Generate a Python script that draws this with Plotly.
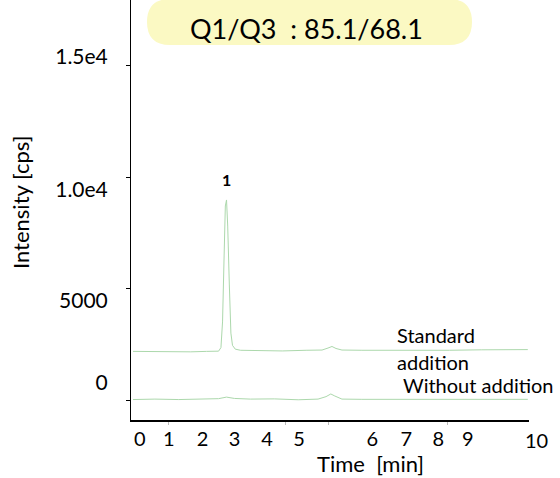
import plotly.graph_objects as go

# ---- data ----
std_time = [0.05, 0.5, 1.0, 1.5, 1.9, 2.2, 2.26, 2.30, 2.34, 2.37, 2.40, 2.43, 2.47, 2.51, 2.55,
            2.62, 2.75, 3.2, 3.8, 4.4, 4.8, 4.95, 5.05, 5.15, 5.3, 5.8, 6.5, 7.2, 8.0, 8.8, 9.5, 9.97]
std_cps = [2180, 2170, 2190, 2160, 2180, 2190, 2350, 3500, 6500, 8700, 8970, 7800, 5200, 3000, 2450,
           2280, 2230, 2210, 2200, 2230, 2240, 2330, 2400, 2310, 2240, 2230, 2220, 2240, 2230, 2250, 2240, 2260]

wo_time = [0.05, 0.6, 1.2, 1.8, 2.2, 2.4, 2.6, 3.0, 3.6, 4.2, 4.7, 4.9, 5.02, 5.12, 5.3, 5.8,
           6.5, 7.2, 8.0, 8.8, 9.5, 9.97]
wo_cps = [20, 40, 20, 30, 60, 130, 70, 40, 50, 10, 40, 150, 270, 180, 40, 30,
          30, 40, 20, 30, 40, 30]

xtick_labels = ["0", "1", "2", "3", "4", "5", "6", "7", "8", "9", "10"]
xtick_pos = [0.22, 0.95, 1.8, 2.6, 3.42, 4.22, 6.06, 6.92, 7.72, 8.46, 10.2]
ytick_labels = ["0", "5000", "1.0e4", "1.5e4"]
ytick_pos = [760, 4450, 9420, 15400]

title_text = "Q1/Q3\u00a0 : 85.1/68.1"
peak_label = "1"
peak_time, peak_cps = 2.40, 8970

FONT = "Lato"
W, H = 560, 478
L, R, T, B = 131, 31, 0, 58
PW, PH = W - L - R, H - T - B
XR = [0, 10]
YR = [-897, 17937]

def px(xp):
    return (xp - L) / PW

def py(yp):
    return (H - B - yp) / PH

fig = go.Figure()
line_col = "rgb(172,216,172)"
fig.add_trace(go.Scatter(x=std_time, y=std_cps, mode="lines",
                         line=dict(color=line_col, width=1), showlegend=False))
fig.add_trace(go.Scatter(x=wo_time, y=wo_cps, mode="lines",
                         line=dict(color=line_col, width=1), showlegend=False))

# rounded title box (stadium) in pixel-derived paper coordinates
x0, x1, y0, y1, r = 147, 472, -1, 45, 23
pts = [
    ("M", px(x0 + r), py(y0)), ("L", px(x1 - r), py(y0)),
    ("Q", px(x1), py(y0), px(x1), py(y0 + r)),
    ("Q", px(x1), py(y1), px(x1 - r), py(y1)),
    ("L", px(x0 + r), py(y1)),
    ("Q", px(x0), py(y1), px(x0), py(y1 - r)),
    ("Q", px(x0), py(y0), px(x0 + r), py(y0)),
]
path = ""
for p in pts:
    if p[0] == "Q":
        path += f"Q{p[1]:.5f},{p[2]:.5f} {p[3]:.5f},{p[4]:.5f} "
    else:
        path += f"{p[0]}{p[1]:.5f},{p[2]:.5f} "
path += "Z"
fig.add_shape(type="path", path=path, xref="paper", yref="paper",
              fillcolor="#FBF9C3", line=dict(width=0), layer="below")


def note(xp, yp, text, size, xanchor="center", angle=0):
    fig.add_annotation(x=px(xp), y=py(yp), xref="paper", yref="paper", text=text,
                       showarrow=False, xanchor=xanchor, yanchor="middle", textangle=angle,
                       font=dict(family=FONT, size=size, color="black"))


note(306, 29, title_text, 27)
fig.add_annotation(x=peak_time, y=peak_cps, text=f"<b>{peak_label}</b>", showarrow=False,
                   yshift=20, font=dict(family=FONT, size=16, color="black"))
note(395, 335, "Standard", 20, "left")
note(395, 362, "addition", 20, "left")
note(401, 385, "Without addition", 20, "left")
note(370, 463, "Time\u00a0 [min]", 22)
note(21, 203, "Intensity [cps]", 22, angle=-90)

# x tick labels inside the axis range are ticks; the last one lies past the axis end
in_vals = [v for v in xtick_pos if v <= XR[1]]
in_text = xtick_labels[:len(in_vals)]
for v, t in zip(xtick_pos[len(in_vals):], xtick_labels[len(in_vals):]):
    fig.add_annotation(x=(v - XR[0]) / (XR[1] - XR[0]), y=0, xref="paper", yref="paper",
                       text=t, showarrow=False, xanchor="center", yanchor="top", yshift=-6,
                       font=dict(family=FONT, size=20, color="black"))

fig.update_xaxes(range=XR, showline=True, linecolor="black", linewidth=1.5, showgrid=False,
                 zeroline=False, tickmode="array", tickvals=in_vals, ticktext=in_text,
                 ticks="", tickfont=dict(family=FONT, size=20, color="black"),
                 minor=dict(tickmode="array", tickvals=[0.95, 3.89, 4.97, 7.94], ticks="outside",
                            ticklen=3, tickcolor="#bbbbbb", showgrid=False))
fig.update_yaxes(range=YR, showline=True, linecolor="black", linewidth=1, showgrid=False,
                 zeroline=False, tickmode="array", tickvals=ytick_pos, ticktext=ytick_labels,
                 ticks="", tickfont=dict(family=FONT, size=21, color="black"),
                 ticklabelstandoff=18,
                 minor=dict(tickmode="array", tickvals=[0, 5000, 10000, 15000], ticks="outside",
                            ticklen=4, tickcolor="black", showgrid=False))

fig.update_layout(width=W, height=H, margin=dict(l=L, r=R, t=T, b=B),
                  paper_bgcolor="white", plot_bgcolor="white", showlegend=False)
fig.write_html("out.html")
